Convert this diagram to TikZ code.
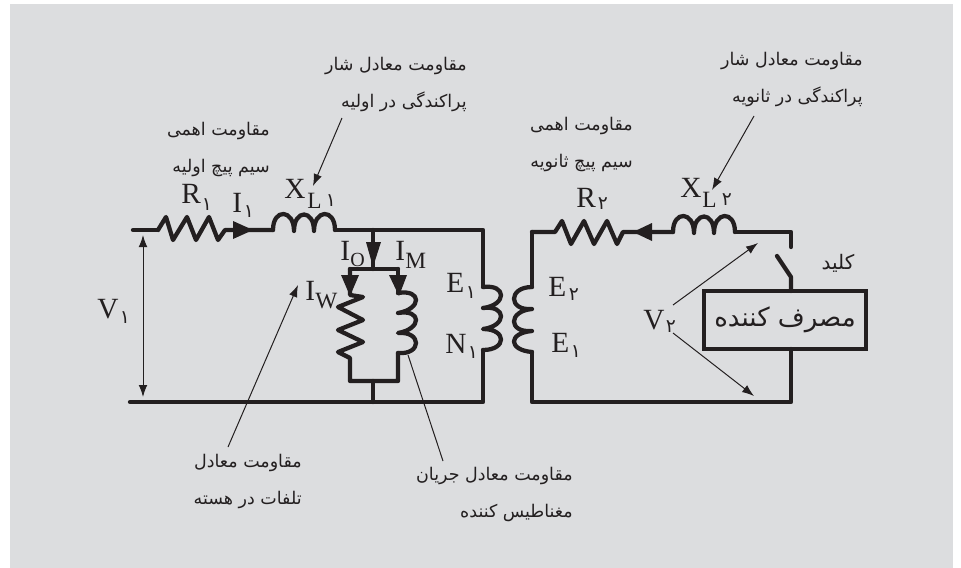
\documentclass[tikz,border=0pt]{standalone}
\usepackage{fontspec}
\usetikzlibrary{arrows.meta}
\TeXXeTstate=1
\setmainfont{Liberation Serif}
\newfontfamily\arabicfont[Script=Arabic]{DejaVu Sans}
\newcommand{\fa}[1]{\beginR #1\endR}
\definecolor{panel}{HTML}{DCDDDF}
\definecolor{ink}{HTML}{231F20}
\tikzset{
  wire/.style={draw=ink,line width=3.2pt,line join=round,line cap=round},
  thin arrow/.style={draw=ink,line width=0.75pt,-{Latex[length=9pt,width=6.5pt]}},
  thin line/.style={draw=ink,line width=0.75pt},
  tip/.style={fill=ink,draw=none},
  big/.style={inner sep=0pt,anchor=base west,text=ink,font=\fontsize{22}{22}\selectfont},
  small/.style={inner sep=0pt,anchor=base west,text=ink,font=\fontsize{17.5}{18}\selectfont},
  digit/.style={inner sep=0pt,anchor=center,text=ink,font=\arabicfont\fontsize{14}{14}\selectfont},
  note/.style={inner sep=0pt,anchor=north east,align=right,text=ink,font=\arabicfont\fontsize{13.1}{27.7}\selectfont},
}
\begin{document}
\begin{tikzpicture}[x=0.75pt,y=-0.75pt]
\useasboundingbox (0,0) rectangle (961,568);
\fill[panel] (10,4) rectangle (953,568);

% named points, primary
\coordinate (inT) at (133,230);
\coordinate (inB) at (130,402);
\coordinate (r1a) at (158,230);
\coordinate (r1b) at (225,230);
\coordinate (l1a) at (273,230);
\coordinate (l1b) at (335,230);
\coordinate (jT) at (373,230);
\coordinate (jM) at (373,269);
\coordinate (barL) at (350,269);
\coordinate (barR) at (398,269);
\coordinate (rwT) at (350,295);
\coordinate (rwB) at (350,358);
\coordinate (lmT) at (398,293);
\coordinate (lmB) at (398,353);
\coordinate (botL) at (350,381);
\coordinate (botR) at (398,381);
\coordinate (jL) at (373,381);
\coordinate (jB) at (373,402);
\coordinate (cTR) at (483,230);
\coordinate (n1T) at (483,287);
\coordinate (n1B) at (483,350);
\coordinate (cBR) at (483,402);
% named points, secondary
\coordinate (cTL) at (532,232);
\coordinate (r2a) at (555,232);
\coordinate (r2b) at (623,232);
\coordinate (l2a) at (673,232);
\coordinate (l2b) at (735,232);
\coordinate (swT) at (791,232);
\coordinate (swE) at (791,247);
\coordinate (swA) at (777,256);
\coordinate (swK) at (791,277);
\coordinate (n2T) at (532,287);
\coordinate (n2B) at (532,352);
\coordinate (cBL) at (532,402);
\coordinate (cBM) at (791,402);

\node[draw=ink,line width=3.2pt,minimum width=121.5pt,minimum height=43.5pt,inner sep=0pt,
      text=ink,font=\arabicfont\fontsize{19.5}{20}\selectfont] (load) at (785,320) {\fa{مصرف کننده}};
\coordinate (loadT) at (791,291);
\coordinate (loadB) at (791,349);

% wires
\draw[wire] (inT) -- (r1a);
\draw[wire] (r1a) -- (166,217) -- (173,240) -- (187,217) -- (196,240) -- (209,217) -- (218,240) -- (r1b) -- (l1a);
\draw[wire] (l1a) .. controls +(0,-22) and +(0,-22) .. ++(21,1)
   .. controls +(0,-22) and +(0,-22) .. ++(20,0)
   .. controls +(0,-22) and +(0,-22) .. (l1b);
\draw[wire] (l1b) -- (cTR) -- (n1T);
\draw[wire] (n1T) .. controls +(24,-3) and +(24,-3) .. ++(0,21)
   .. controls +(24,-3) and +(24,-3) .. ++(0,21)
   .. controls +(24,0) and +(24,0) .. (n1B);
\draw[wire] (n1B) -- (cBR) -- (inB);
\draw[wire] (jT) -- (jM);
\draw[wire] (barL) -- (barR);
\draw[wire] (barL) -- (rwT) -- (363,297) -- (338,307) -- (363,320) -- (338,330) -- (363,342) -- (338,352) -- (rwB) -- (botL) -- (botR) -- (lmB);
\draw[wire] (barR) -- (lmT);
\draw[wire] (lmT) .. controls +(24,-4) and +(24,-4) .. ++(0,20)
   .. controls +(24,-4) and +(24,-4) .. ++(0,20)
   .. controls +(24,-2) and +(24,2) .. (lmB);
\draw[wire] (jL) -- (jB);

\draw[wire] (cTL) -- (r2a) -- (562,221) -- (571,244) -- (584,221) -- (594,244) -- (607,221) -- (617,244) -- (r2b) -- (l2a);
\draw[wire] (l2a) .. controls +(0,-22) and +(0,-22) .. ++(21,1)
   .. controls +(0,-22) and +(0,-22) .. ++(20,0)
   .. controls +(0,-22) and +(0,-22) .. (l2b);
\draw[wire] (l2b) -- (swT) -- (swE);
\draw[wire] (swA) -- (swK) -- (loadT);
\draw[wire] (loadB) -- (cBM) -- (cBL) -- (n2B);
\draw[wire] (n2B) .. controls +(-24,-2) and +(-24,2) .. ++(0,-21)
   .. controls +(-24,2) and +(-24,2) .. ++(0,-22)
   .. controls +(-24,2) and +(-24,0) .. (n2T);
\draw[wire] (n2T) -- (cTL);

% current arrowheads
\fill[tip] (233,221) -- (253,230) -- (233,239) -- cycle;
\fill[tip] (633,232) -- (652,223) -- (652,241) -- cycle;
\fill[tip] (366,242) -- (381,242) -- (373,267) -- cycle;
\fill[tip] (341,275) -- (359,275) -- (350,296) -- cycle;
\fill[tip] (389,275) -- (407,275) -- (399,296) -- cycle;

% thin arrows
\coordinate (v1T) at (143,235);
\coordinate (v1B) at (143,397);
\draw[thin line,{Latex[length=9pt,width=6.5pt]}-{Latex[length=9pt,width=6.5pt]}] (v1T) -- (v1B);
\coordinate (v2S1) at (673,305);
\coordinate (v2E1) at (758,243);
\coordinate (v2S2) at (673,333);
\coordinate (v2E2) at (754,396);
\draw[thin arrow] (v2S1) -- (v2E1);
\draw[thin arrow] (v2S2) -- (v2E2);
\coordinate (pXa) at (342,118);
\coordinate (pXb) at (313,186);
\draw[thin arrow] (pXa) -- (pXb);
\coordinate (pYa) at (754,116);
\coordinate (pYb) at (712,190);
\draw[thin arrow] (pYa) -- (pYb);
\coordinate (pWa) at (228,447);
\coordinate (pWb) at (298,285);
\draw[thin arrow] (pWa) -- (pWb);
\coordinate (pMa) at (408,355);
\coordinate (pMb) at (443,461);
\draw[thin line] (pMa) -- (pMb);

% Latin labels
\node[big] (R1) at (181,203) {R};
\node[digit] (R1d) at (207,205) {۱};
\node[big] (I1) at (232,212) {I};
\node[digit] (I1d) at (249,212) {۱};
\node[big] (X1) at (284,198) {X};
\node[small] (L1) at (307,208) {L};
\node[digit] (L1d) at (331,201) {۱};
\node[big] (Io) at (340,260) {I};
\node[small,font=\fontsize{15}{15}\selectfont] (IoS) at (350,266) {O};
\node[big] (Im) at (395,260) {I};
\node[small] (ImS) at (405,268) {M};
\node[big] (Iw) at (305,300) {I};
\node[small] (IwS) at (315,308) {W};
\node[big] (E1) at (446,292) {E};
\node[digit] (E1d) at (471,293) {۱};
\node[big] (N1) at (445,353) {N};
\node[digit] (N1d) at (473,353) {۱};
\node[big] (V1) at (97,318) {V};
\node[digit] (V1d) at (125,318) {۱};
\node[big] (R2) at (576,207) {R};
\node[digit] (R2d) at (603,204) {۲};
\node[big] (X2) at (680,197) {X};
\node[small] (L2) at (702,207) {L};
\node[digit] (L2d) at (727,200) {۲};
\node[big] (E2) at (548,296) {E};
\node[digit] (E2d) at (574,295) {۲};
\node[big] (E3) at (551,352) {E};
\node[digit] (E3d) at (576,352) {۱};
\node[big] (V2) at (643,329) {V};
\node[digit] (V2d) at (671,327) {۲};

% Persian notes
\node[note] (nX1) at (467,57) {\fa{مقاومت معادل شار}\\\fa{پراکندگی در اولیه}};
\node[note] (nR1) at (270,122) {\fa{مقاومت اهمی}\\\fa{سیم پیچ اولیه}};
\node[note] (nX2) at (863,52) {\fa{مقاومت معادل شار}\\\fa{پراکندگی در ثانویه}};
\node[note] (nR2) at (633,117) {\fa{مقاومت اهمی}\\\fa{سیم پیچ ثانویه}};
\node[note] (nW) at (302,454) {\fa{مقاومت معادل}\\\fa{تلفات در هسته}};
\node[note] (nM) at (573,467) {\fa{مقاومت معادل جریان}\\\fa{مغناطیس کننده}};
\node[note,anchor=center,font=\arabicfont\fontsize{15}{15}\selectfont] (nK) at (838,263) {\fa{کلید}};
\end{tikzpicture}
\end{document}
